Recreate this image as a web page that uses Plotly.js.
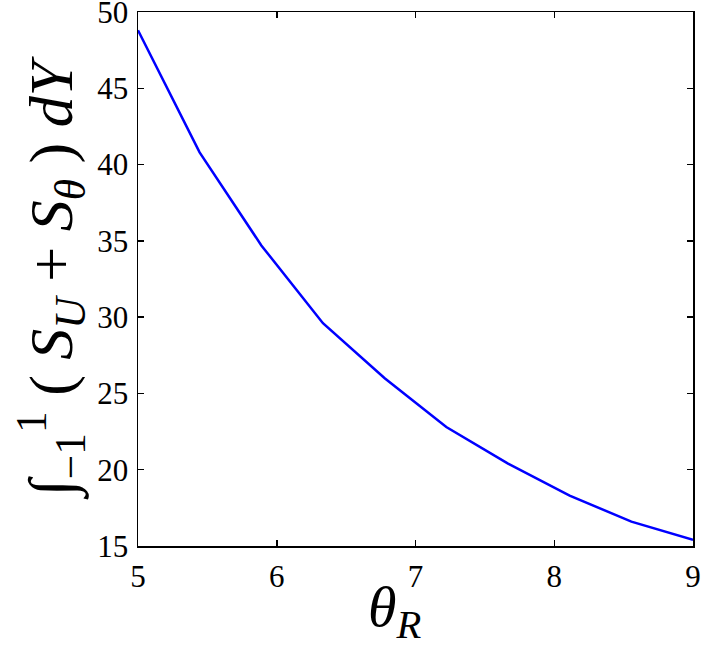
<!DOCTYPE html>
<html>
<head>
<meta charset="utf-8">
<script src="https://cdn.plot.ly/plotly-3.0.1.min.js"></script>
<style>html,body{margin:0;padding:0;background:#fff;}#chart{width:701px;height:645px;}</style>
</head>
<body>
<div id="chart"></div>
<script>
const thetaR = [5, 5.444, 5.889, 6.333, 6.778, 7.222, 7.667, 8.111, 8.556, 9];
const integralS = [48.8, 40.8, 34.7, 29.6, 26.0, 22.8, 20.4, 18.3, 16.6, 15.4];
const xTicks = [5, 6, 7, 8, 9];
const yTicks = [15, 20, 25, 30, 35, 40, 45, 50];
const xTitle = '<i>θ<sub>R</sub></i>';
const yTitle = '∫<sub>−1</sub><sup>1</sup> ( <i>S<sub>U</sub></i> + <i>S<sub>θ</sub></i> ) <i>dY</i>';

const serif = 'Liberation Serif, Times New Roman, serif';
const trace = {
  x: thetaR, y: integralS, type: 'scatter', mode: 'lines',
  line: {color: '#0000ff', width: 2.5}, hoverinfo: 'skip'
};
const axisCommon = {
  showgrid: false, zeroline: false, showline: true, mirror: 'ticks',
  linecolor: '#000', linewidth: 1.5, ticks: 'inside', ticklen: 6, tickwidth: 1.5,
  tickcolor: '#000', ticklabeloverflow: 'allow',
  tickfont: {family: serif, size: 31, color: '#000'}
};
const layout = {
  width: 701, height: 645,
  margin: {l: 138, r: 8, t: 12, b: 99},
  paper_bgcolor: '#fff', plot_bgcolor: '#fff',
  showlegend: false,
  xaxis: Object.assign({}, axisCommon, {
    range: [5, 9], tickvals: xTicks, ticktext: xTicks.map(String), ticklabelstandoff: 2
  }),
  yaxis: Object.assign({}, axisCommon, {
    range: [15, 50], tickvals: yTicks, ticktext: yTicks.map(String), ticklabelstandoff: 2,
    title: {text: yTitle, font: {family: serif, size: 62, color: '#000'}, standoff: 4}
  }),
  annotations: [{
    text: xTitle, xref: 'paper', yref: 'paper', x: 0.463, y: -0.048,
    xanchor: 'center', yanchor: 'top', showarrow: false,
    font: {family: serif, size: 58, color: '#000'}
  }]
};
Plotly.newPlot('chart', [trace], layout, {staticPlot: true, displayModeBar: false});
</script>
</body>
</html>
